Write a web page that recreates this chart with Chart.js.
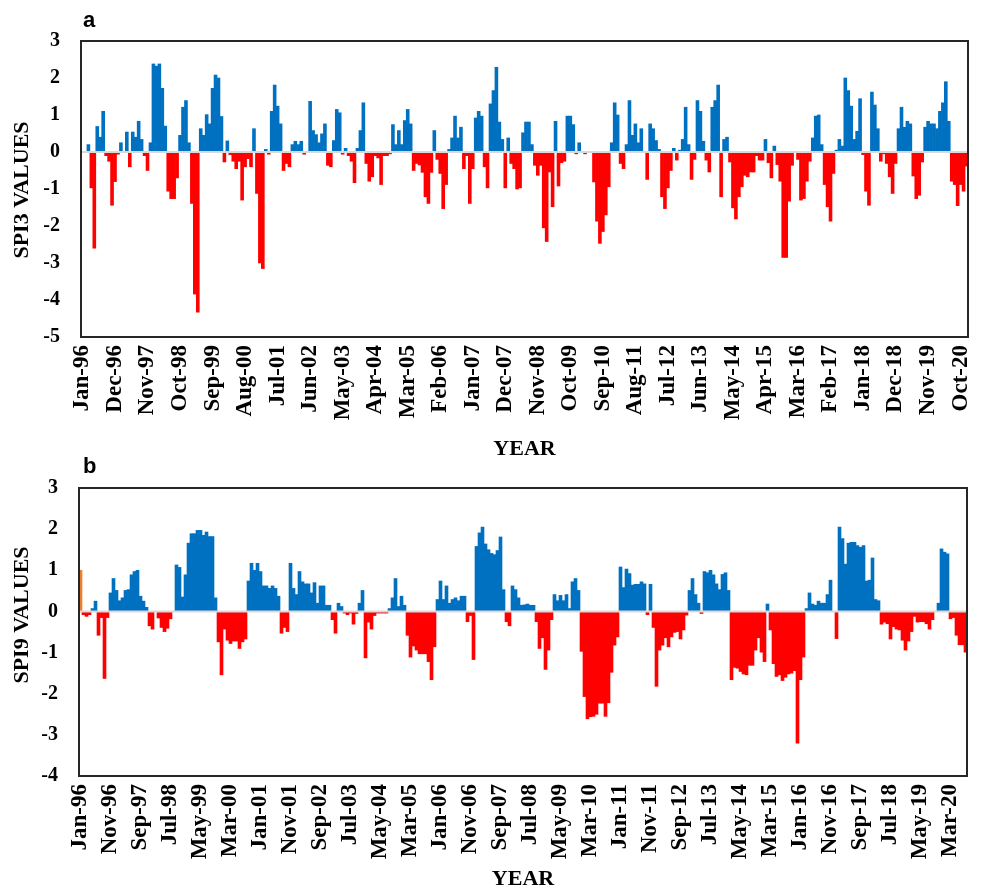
<!DOCTYPE html>
<html>
<head>
<meta charset="utf-8">
<script src="https://cdn.jsdelivr.net/npm/chart.js@4.4.1/dist/chart.umd.min.js"></script>
<style>
    html, body { margin: 0; padding: 0; background: #fff; overflow: hidden; }
    body { width: 981px; height: 890px; position: relative; }
    canvas { position: absolute; left: 0; }
    #spi3 { top: 0; }
    #spi9 { top: 440px; }
</style>
</head>
<body>
<canvas id="spi3" width="981" height="470"></canvas>
<canvas id="spi9" width="981" height="460"></canvas>
<script>
// Monthly SPI values, Jan-96 onwards (one row per year)

const MONTHS = ["Jan", "Feb", "Mar", "Apr", "May", "Jun", "Jul", "Aug", "Sep", "Oct", "Nov", "Dec"];
const START_YEAR = 1996;

const spi3Values = [
    null, null, 0.2, -0.97, -2.6, 0.69, 0.4, 1.1, -0.1, -0.25, -1.44, -0.8,
    -0.06, 0.25, 0, 0.54, -0.4, 0.54, 0.4, 0.83, 0.34, -0.1, -0.5, 0.25,
    2.38, 2.32, 2.38, 1.72, 0.7, -1.06, -1.26, -1.26, -0.7, 0.45, 1.21, 1.39,
    0.25, -1.39, -3.84, -4.33, 0.63, 0.45, 1.01, 0.76, 1.72, 2.08, 2.0, 0.96,
    -0.27, 0.3, -0.07, -0.25, -0.45, -0.25, -1.3, -0.4, -0.18, -0.4, 0.63, -1.12,
    -3.0, -3.15, 0.07, -0.06, 1.1, 1.81, 1.24, 0.76, -0.5, -0.31, -0.4, 0.2,
    0.29, 0.2, 0.29, -0.06, 0, 1.37, 0.58, 0.47, 0.25, 0.49, 0.76, -0.36,
    -0.4, 0.31, 1.15, 1.06, -0.06, 0.1, -0.1, -0.25, -0.83, 0.1, 0.58, 1.33,
    -0.31, -0.79, -0.67, -0.1, -0.16, -0.88, -0.1, -0.1, -0.05, 0.74, 0.2, 0.58,
    0.2, 0.85, 1.15, 0.76, -0.5, -0.31, -0.35, -0.55, -1.21, -1.39, -0.55, 0.58,
    -0.2, -0.58, -1.53, -0.88, 0.07, 0.38, 0.97, 0.38, 0.67, -0.45, -0.1, -1.39,
    -0.45, 0.92, 1.1, 0.97, -0.4, -0.97, 1.3, 1.66, 2.29, 0.81, 0.34, -0.97,
    0.38, -0.31, -0.45, -1.0, -0.97, 0.52, 0.81, 0.81, 0.2, -0.36, -0.63, -0.36,
    -2.05, -2.42, -0.54, -1.48, 0.83, -0.92, -0.29, -0.25, 0.97, 0.97, 0.74, -0.05,
    0.25, 0, -0.05, 0, 0, -0.81, -1.87, -2.47, -2.15, -1.7, -0.94, 0.25,
    1.33, 1.0, -0.31, -0.45, 0.2, 1.39, 0.45, 0.76, 0.25, 0.63, 0, -0.74,
    0.76, 0.63, 0.31, 0.07, -1.21, -1.53, -0.97, -0.5, 0.1, -0.22, 0.05, 0.34,
    1.21, 0.2, -0.74, -0.2, 1.39, 1.1, 0.29, -0.22, -0.54, 1.21, 1.39, 1.81,
    -1.21, 0.34, 0.4, -0.27, -1.51, -1.81, -1.21, -0.94, -0.63, -0.67, -0.54, -0.54,
    -0.1, -0.22, -0.22, 0.34, -0.29, -0.7, 0.16, -0.34, -0.79, -2.85, -2.85, -1.33,
    -0.36, 0, -0.2, -1.3, -1.26, -0.79, -0.25, 0.38, 0.97, 1.0, 0.2, -0.88,
    -1.48, -1.87, -0.58, 0.05, 0.34, 0.16, 2.0, 1.66, 1.24, 0.34, 0.56, 1.44,
    -0.07, -1.06, -1.44, 1.62, 1.27, 0.63, -0.25, -0.05, -0.31, -0.67, -1.12, -0.31,
    0.63, 1.21, 0.67, 0.83, 0.76, -0.65, -1.26, -1.17, -0.27, 0.67, 0.83, 0.76,
    0.76, 0.63, 1.1, 1.33, 1.9, 0.83, -0.79, -0.88, -1.45, -0.88, -1.06, -0.38
];

const spi9Values = [
    1.0, -0.08, -0.12, -0.08, 0.07, 0.25, -0.58, -0.15, -1.63, -0.15, 0.45, 0.8,
    0.51, 0.26, 0.33, 0.51, 0.53, 0.89, 0.97, 1.0, 0.37, 0.25, 0.1, -0.35,
    -0.43, 0, -0.16, -0.39, -0.49, -0.41, -0.18, 0, 1.13, 1.07, 0.35, 0.89,
    1.66, 1.89, 1.89, 1.97, 1.97, 1.85, 1.93, 1.82, 1.82, 0.33, -0.74, -1.54,
    -0.43, -0.7, -0.78, -0.72, -0.72, -0.9, -0.74, -0.67, 0.74, 1.17, 1.0, 1.17,
    0.97, 0.62, 0.62, 0.56, 0.62, 0.56, 0.37, -0.53, -0.39, -0.49, 1.17, 0.56,
    0.41, 0.97, 0.72, 0.67, 0.67, 0.45, 0.7, 0.2, 0.62, 0.62, 0.15, 0.15,
    -0.2, -0.53, 0.2, 0.12, -0.04, -0.08, -0.04, -0.31, -0.05, 0.2, 0.51, -1.13,
    -0.26, -0.43, -0.1, -0.04, -0.04, -0.04, -0.04, 0.07, 0.33, 0.8, 0.12, 0.37,
    0.15, -0.58, -1.11, -0.84, -0.94, -1.03, -1.03, -1.03, -1.22, -1.66, -0.86, 0.29,
    0.74, 0.29, 0.62, 0.2, 0.29, 0.33, 0.26, 0.37, 0.37, -0.25, -0.1, -1.17,
    1.58, 1.91, 2.05, 1.64, 1.5, 1.41, 1.38, 1.48, 1.81, 0.53, -0.25, -0.35,
    0.62, 0.53, 0.33, 0.15, 0.16, 0.18, 0.15, 0.15, -0.25, -0.9, -0.64, -1.41,
    -0.94, -0.2, 0.41, 0.26, 0.39, 0.26, 0.41, 0.07, 0.72, 0.8, 0.51, -0.97,
    -2.07, -2.61, -2.56, -2.55, -2.5, -2.23, -2.23, -2.55, -2.22, -1.48, -0.82, -0.62,
    1.08, 0.58, 1.03, 0.92, 0.64, 0.66, 0.66, 0.72, 0.67, -0.08, 0.66, -0.39,
    -1.82, -0.94, -0.82, -0.64, -0.86, -0.62, -0.51, -0.49, -0.67, -0.45, -0.09, 0.51,
    0.8, 0.41, 0.2, -0.05, 0.97, 0.94, 1.0, 0.89, 0.67, 0.53, 0.9, 0.94,
    0.51, -1.66, -1.36, -1.38, -1.46, -1.52, -1.54, -1.31, -1.31, -0.94, -0.64, -0.99,
    -1.22, 0.18, -0.45, -1.27, -1.58, -1.54, -1.68, -1.6, -1.52, -1.5, -1.44, -3.2,
    -1.66, -1.11, 0.07, 0.45, 0.18, 0.15, 0.25, 0.2, 0.2, 0.41, 0.76, 0,
    -0.66, 2.05, 1.77, 1.15, 1.66, 1.68, 1.68, 1.6, 1.56, 1.6, 0.74, 0.76,
    1.3, 0.29, 0.26, -0.31, -0.26, -0.3, -0.67, -0.37, -0.43, -0.45, -0.7, -0.94,
    -0.72, -0.49, -0.12, -0.26, -0.25, -0.25, -0.3, -0.43, -0.2, 0, 0.2, 1.52,
    1.44, 1.4, -0.18, -0.15, -0.58, -0.81, -0.81, -0.99
];

// every 11th month is labelled on the SPI3 axis, every 10th on the SPI9 axis
const spi3LabelStep = 11;
const spi9LabelStep = 10;

const BLUE = "#0070c0";
const RED = "#ff0000";
const ORANGE = "#ed7d31";
const SERIF = "'Liberation Serif', 'Times New Roman', serif";

// Builds "Jan-96" style labels for every month of the series
function monthLabels(count) {
    let labels = [];
    for (let i = 0; i < count; i++) {
        let yr = (START_YEAR + Math.floor(i / 12)) % 100;
        labels.push(MONTHS[i % 12] + "-" + String(yr).padStart(2, "0"));
    }
    return labels;
}

// Draws the zero line, the box round the plot, the panel letter and the y title
const framePlugin = {
    id: "frame",
    afterDatasetsDraw(chart, args, opts) {
        let ctx = chart.ctx;
        let area = chart.chartArea;
        let y0 = chart.scales.y.getPixelForValue(0);

        ctx.save();
        ctx.strokeStyle = "#d9d9d9";
        ctx.lineWidth = 2;
        ctx.beginPath();
        ctx.moveTo(area.left, y0);
        ctx.lineTo(area.right, y0);
        ctx.stroke();

        ctx.strokeStyle = "#262626";
        ctx.lineWidth = 2;
        ctx.strokeRect(area.left, area.top, area.right - area.left, area.bottom - area.top);

        ctx.fillStyle = "#000";
        ctx.font = "bold 22px 'Liberation Sans', Arial, sans-serif";
        ctx.textBaseline = "alphabetic";
        ctx.fillText(opts.letter, opts.x, opts.y);

        // y axis title, turned to read upwards
        ctx.translate(opts.titleX, opts.titleY);
        ctx.rotate(-Math.PI / 2);
        ctx.font = "bold 22px " + SERIF;
        ctx.textAlign = "center";
        ctx.textBaseline = "middle";
        ctx.fillText(opts.title, 0, 0);
        ctx.restore();
    }
};

function createPanel(canvasId, values, p) {
    let canvas = document.getElementById(canvasId);
    return new Chart(canvas, {
        type: "bar",
        data: {
            labels: monthLabels(values.length),
            datasets: [{
                label: p.yTitle,
                data: values,
                backgroundColor: (c) => {
                    if (p.firstColour && c.dataIndex === 0) return p.firstColour;
                    return c.raw < 0 ? RED : BLUE;
                },
                borderWidth: 0,
                barPercentage: 1,
                categoryPercentage: 1
            }]
        },
        options: {
            responsive: false,
            animation: false,
            devicePixelRatio: 1,
            layout: { padding: { top: p.top, right: p.right, left: 0, bottom: 0 } },
            plugins: {
                legend: { display: false },
                tooltip: { enabled: false },
                frame: {
                    letter: p.letter, x: p.letterX, y: p.letterY,
                    title: p.yTitle, titleX: 22, titleY: p.titleY
                }
            },
            scales: {
                x: {
                    grid: { display: false, drawTicks: false },
                    border: { display: false },
                    ticks: {
                        autoSkip: false,
                        minRotation: 90,
                        maxRotation: 90,
                        padding: 8,
                        color: "#000",
                        font: { family: SERIF, size: 23, weight: "bold" },
                        callback: function (value, index) {
                            return index % p.step === 0 ? this.getLabelForValue(value) : "";
                        }
                    },
                    title: {
                        display: true,
                        text: "YEAR",
                        color: "#000",
                        font: { family: SERIF, size: 22, weight: "bold" },
                        padding: { top: 0, bottom: 7 }
                    },
                    // fixed height, and no extra side room for the rotated end labels
                    afterFit: (s) => {
                        s.height = p.xHeight;
                        s.paddingLeft = 0;
                        s.paddingRight = 0;
                    }
                },
                y: {
                    min: p.yMin,
                    max: 3,
                    grid: { display: false, drawTicks: false },
                    border: { display: false },
                    ticks: {
                        stepSize: 1,
                        padding: 21,
                        color: "#000",
                        font: { family: SERIF, size: 20, weight: "bold" }
                    },
                    afterFit: (s) => {
                        s.width = p.yWidth;
                        s.paddingTop = 0;
                        s.paddingBottom = 0;
                    }
                }
            }
        },
        plugins: [framePlugin]
    });
}

createPanel("spi3", spi3Values, {
    yTitle: "SPI3 VALUES", yMin: -5, step: spi3LabelStep,
    top: 41, right: 13, yWidth: 81, xHeight: 133,
    letter: "a", letterX: 83, letterY: 27, titleY: 190
});

createPanel("spi9", spi9Values, {
    yTitle: "SPI9 VALUES", yMin: -4, step: spi9LabelStep,
    top: 48, right: 14, yWidth: 79, xHeight: 124,
    letter: "b", letterX: 83, letterY: 33, titleY: 175, firstColour: ORANGE
});
</script>
</body>
</html>
